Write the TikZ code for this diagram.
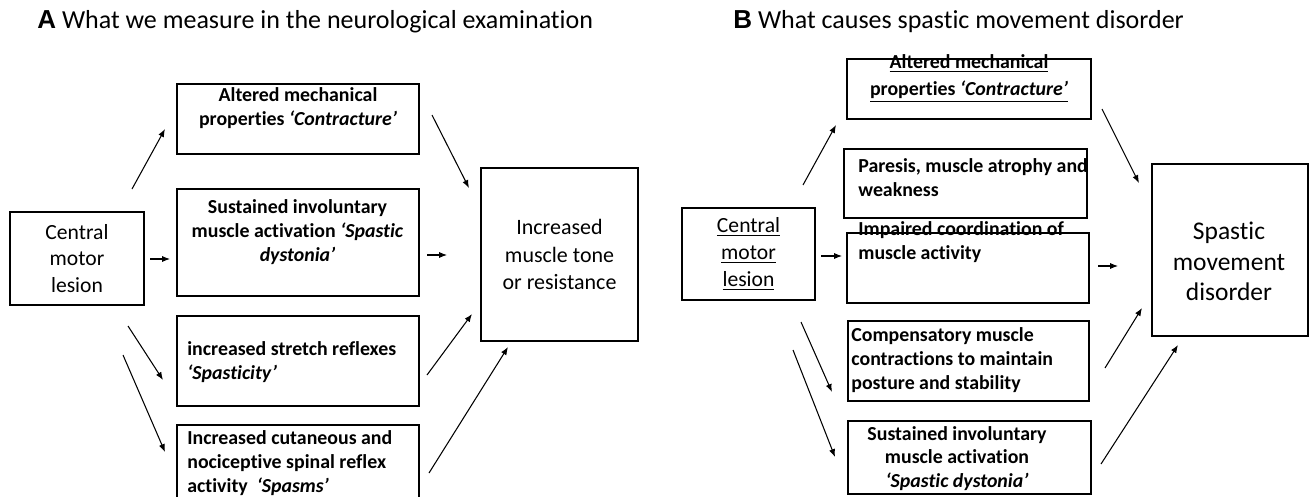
\documentclass[tikz,border=0pt]{standalone}
\usepackage{fontspec}
\setmainfont{Carlito}[Ligatures=NoCommon]
\newfontfamily\panelfont{Liberation Sans}
\usetikzlibrary{arrows.meta}

\begin{document}
\begin{tikzpicture}[x=0.02cm, y=-0.02cm,
    box/.style={draw, line width=0.75pt, inner sep=0pt},
    txt/.style={inner sep=0pt, align=center, font=\fontsize{11.3}{13.6}\selectfont\bfseries},
    lefttxt/.style={txt, align=left, anchor=west},
    big/.style={inner sep=0pt, align=center, font=\fontsize{12.3}{15.3}\selectfont},
    arr/.style={-{Latex[length=4.5pt,width=3.5pt]}, line width=0.6pt}]
    \useasboundingbox (0,0) rectangle (1309,497);

    % titles
    \node[anchor=west, inner sep=0pt, font=\fontsize{14.8}{17}\selectfont] (titA) at (37,22) {{\panelfont\bfseries A}\ What we measure in the neurological examination};
    \node[anchor=west, inner sep=0pt, font=\fontsize{14.8}{17}\selectfont] (titB) at (733,22) {{\panelfont\bfseries B}\ What causes spastic movement disorder};

    % panel A
    \node[box, big, minimum width=2.68cm, minimum height=1.86cm] (lesA) at (77,258.5) {Central\\motor\\lesion};
    \node[box, minimum width=4.84cm, minimum height=1.40cm] (a1) at (298,119) {};
    \node[box, minimum width=4.84cm, minimum height=2.14cm] (a2) at (298,242.5) {};
    \node[box, minimum width=4.84cm, minimum height=1.80cm] (a3) at (298,361) {};
    \node[box, minimum width=4.84cm, minimum height=1.48cm] (a4) at (298,462) {};
    \node[box, align=center, font=\fontsize{12.5}{15.6}\selectfont, minimum width=3.14cm, minimum height=3.46cm] (outA) at (559.5,254.5) {Increased\\muscle tone\\or resistance};

    \node[txt] (a1t) at (298,108) {Altered mechanical\\properties \textit{‘Contracture’}};
    \node[txt] (a2t) at (297.5,232) {Sustained involuntary\\muscle activation \textit{‘Spastic}\\\textit{dystonia’}};
    \node[lefttxt] (a3t) at (187,362) {increased stretch reflexes\\\textit{‘Spasticity’}};
    \node[lefttxt] (a4t) at (187,463) {Increased cutaneous and\\nociceptive spinal reflex\\activity\ \ \textit{‘Spasms’}};

    % panel B
    \node[box, big, minimum width=2.66cm, minimum height=1.84cm] (lesB) at (748.5,254) {\underline{Central}\\\underline{motor}\\\underline{lesion}};
    \node[box, minimum width=4.88cm, minimum height=1.20cm] (b1) at (969,89) {};
    \node[box, minimum width=4.86cm, minimum height=1.38cm] (b2) at (965.5,183.5) {};
    \node[box, minimum width=4.84cm, minimum height=1.40cm] (b3) at (968,268) {};
    \node[box, minimum width=4.82cm, minimum height=1.60cm] (b4) at (968.5,361) {};
    \node[box, minimum width=4.86cm, minimum height=1.46cm] (b5) at (969.5,457.5) {};
    \node[box, minimum width=3.12cm, minimum height=3.44cm] (outB) at (1230,250) {};

    \node[txt, font=\fontsize{11.3}{15.3}\selectfont\bfseries] (b1t) at (969,78.5) {\underline{Altered mechanical}\\\underline{properties \textit{‘Contracture’}}};
    \node[lefttxt] (b2t) at (858,177.5) {Paresis, muscle atrophy and\\weakness};
    \node[lefttxt] (b3t) at (858,242.5) {Impaired coordination of\\muscle activity};
    \node[lefttxt] (b4t) at (851,360) {Compensatory muscle\\contractions to maintain\\posture and stability};
    \node[txt] (b5t) at (957,458.5) {Sustained involuntary\\muscle activation\\\textit{‘Spastic dystonia’}};
    \node[inner sep=0pt, align=center, font=\fontsize{14.5}{17.3}\selectfont] (outBt) at (1229,261.5) {Spastic\\movement\\disorder};

    % arrow ends
    \coordinate (sA1) at (132,189); \coordinate (eA1) at (165,129);
    \coordinate (sA2) at (150,259); \coordinate (eA2) at (170,259);
    \coordinate (sA3) at (128,326); \coordinate (eA3) at (163,380);
    \coordinate (sA4) at (123,355); \coordinate (eA4) at (165,452);
    \coordinate (sA5) at (432,115); \coordinate (eA5) at (469,188);
    \coordinate (sA6) at (427,255); \coordinate (eA6) at (447,255);
    \coordinate (sA7) at (427,375); \coordinate (eA7) at (472,314);
    \coordinate (sA8) at (429,473); \coordinate (eA8) at (508,347);
    \coordinate (sB1) at (803,185); \coordinate (eB1) at (836,125);
    \coordinate (sB2) at (821,256); \coordinate (eB2) at (842,256);
    \coordinate (sB3) at (801,322); \coordinate (eB3) at (832,392);
    \coordinate (sB4) at (793,350); \coordinate (eB4) at (835,457);
    \coordinate (sB5) at (1102,109); \coordinate (eB5) at (1139,183);
    \coordinate (sB6) at (1098,266); \coordinate (eB6) at (1118,266);
    \coordinate (sB7) at (1105,368); \coordinate (eB7) at (1142,308);
    \coordinate (sB8) at (1101,464); \coordinate (eB8) at (1178,345);

    \draw[arr] (sA1) -- (eA1); \draw[arr] (sA2) -- (eA2);
    \draw[arr] (sA3) -- (eA3); \draw[arr] (sA4) -- (eA4);
    \draw[arr] (sA5) -- (eA5); \draw[arr] (sA6) -- (eA6);
    \draw[arr] (sA7) -- (eA7); \draw[arr] (sA8) -- (eA8);
    \draw[arr] (sB1) -- (eB1); \draw[arr] (sB2) -- (eB2);
    \draw[arr] (sB3) -- (eB3); \draw[arr] (sB4) -- (eB4);
    \draw[arr] (sB5) -- (eB5); \draw[arr] (sB6) -- (eB6);
    \draw[arr] (sB7) -- (eB7); \draw[arr] (sB8) -- (eB8);
\end{tikzpicture}
\end{document}
